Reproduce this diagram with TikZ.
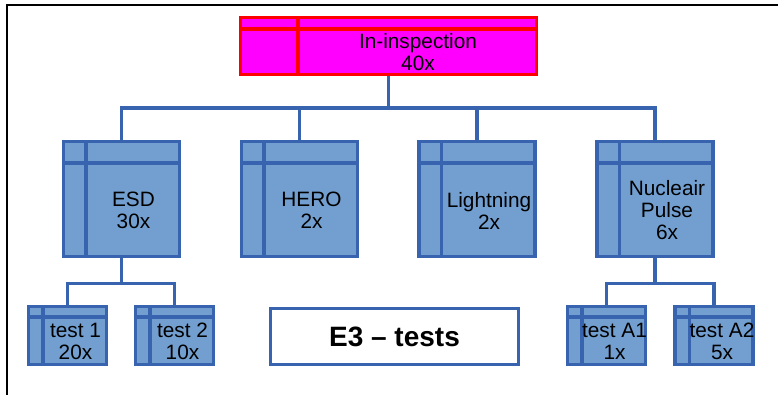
\documentclass[tikz,border=0pt]{standalone}
\usepackage{fontspec}
\setmainfont{Liberation Sans}
\usetikzlibrary{positioning}
\definecolor{cardfill}{RGB}{114,159,207}
\definecolor{cardline}{RGB}{56,100,175}
\definecolor{rootfill}{RGB}{255,0,255}
\definecolor{rootline}{RGB}{255,0,0}

\begin{document}
\begin{tikzpicture}[
  x=1pt, y=-1pt,
  every node/.style={font=\fontsize{20.8}{22}\selectfont, align=center, inner sep=0pt},
  tabs/.style n args={3}{path picture={
    \draw[#3, line width=3.3pt]
      ([yshift=-#2pt]path picture bounding box.north west) --
      ([yshift=-#2pt]path picture bounding box.north east)
      ([xshift=#1pt]path picture bounding box.north west) --
      ([xshift=#1pt]path picture bounding box.south west);}},
  root/.style={draw=rootline, fill=rootfill, line width=3.3pt,
    minimum width=296pt, minimum height=57pt, tabs={57.5}{11.5}{rootline}},
  card/.style={draw=cardline, fill=cardfill, line width=3.3pt,
    minimum width=116pt, minimum height=115pt, tabs={22.5}{21.5}{cardline}},
  leaf/.style={draw=cardline, fill=cardfill, line width=3.3pt,
    minimum width=78pt, minimum height=58pt, tabs={14.5}{10.5}{cardline}},
  wire/.style={draw=cardline, line width=3.3pt},
]

\useasboundingbox (0,0) rectangle (778,395);

%% Outer frame (top and left edges only)
\draw[line width=2pt] (7,395) -- (7,5) -- (778,5);

%% Root box
\node[root] (ins) at (388.5,46) {};
\node (ins-t) at ([shift={(29.5,6.5)}]ins.center) {In-inspection\\40x};

%% ---- Second level ----
\node[card] (esd)   at (121.5,199) {};
\node[card] (hero)  at (299.5,199) {};
\node[card] (light) at (477,199)   {};
\node[card] (puls)  at (655,199)   {};

\node (esd-t)   at ([shift={(12,11.5)}]esd.center)   {ESD\\30x};
\node (hero-t)  at ([shift={(12,11.5)}]hero.center)  {HERO\\2x};
\node (light-t) at ([shift={(12,11.5)}]light.center) {Lightning\\2x};
\node (puls-t)  at ([shift={(12,11.5)}]puls.center)  {Nucleair\\Pulse\\6x};

%% ---- Third level ----
\node[leaf] (t1) at (67.5,335.5)  {};
\node[leaf] (t2) at (174.5,335.5) {};
\node[leaf] (a1) at (606.5,335.5) {};
\node[leaf] (a2) at (714,335.5)   {};

\node (t1-t) at ([shift={(8,6)}]t1.center) {test 1\\20x};
\node (t2-t) at ([shift={(8,6)}]t2.center) {test 2\\10x};
\node (a1-t) at ([shift={(8,6)}]a1.center) {test A1\\1x};
\node (a2-t) at ([shift={(8,6)}]a2.center) {test A2\\5x};

%% Title box
\node[draw=cardline, line width=3.3pt, minimum width=248pt, minimum height=56pt,
  font=\fontsize{28}{30}\selectfont\bfseries] (e3) at (394.5,336.5) {E3 – tests};

%% ---- Connectors ----
\foreach \c in {esd,hero,light,puls}
  \draw[wire] (ins.south) -- ++(0,32) -| (\c.north);
\foreach \c in {t1,t2}
  \draw[wire] (esd.south) -- ++(0,25) -| (\c.north);
\foreach \c in {a1,a2}
  \draw[wire] (puls.south) -- ++(0,25) -| (\c.north);

\end{tikzpicture}
\end{document}
